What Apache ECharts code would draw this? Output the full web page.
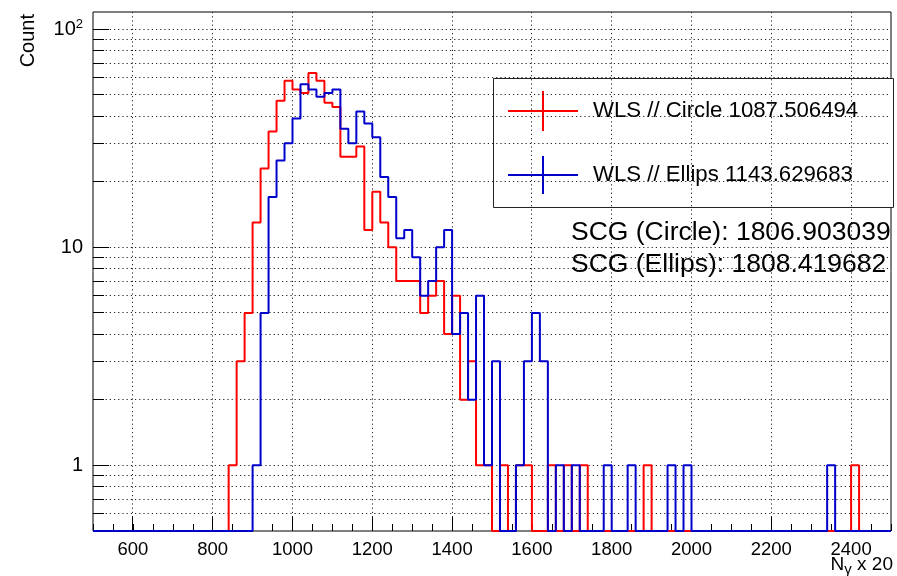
<!DOCTYPE html>
<html><head><meta charset="utf-8">
<script src="https://cdn.jsdelivr.net/npm/echarts@6/dist/echarts.min.js"></script>
<style>html,body{margin:0;padding:0;background:#fff}#c{width:897px;height:576px}</style>
</head><body><div id="c"></div>
<script>
// ---- data ----
const BIN_START = 500, BIN_WIDTH = 20, BIN_COUNT = 100;
const circleCounts = [
  0,0,0,0,0,0,0,0,0,0,
  0,0,0,0,0,0,0,1,3,5,
  13,23,34,47,58,53,51,63,58,46,
  44,26,26,29,12,18,13,10,7,7,
  7,5,6,7,4,6,2,3,1,1,
  0,1,0,1,1,0,0,1,0,1,
  0,1,0,0,0,0,0,0,0,1,
  0,0,0,0,0,0,0,0,0,0,
  0,0,0,0,0,0,0,0,0,0,
  0,0,0,0,0,1,0,0,0,0
];
const ellipsCounts = [
  0,0,0,0,0,0,0,0,0,0,
  0,0,0,0,0,0,0,0,0,0,
  1,5,17,25,30,39,56,53,49,51,
  53,35,30,42,37,32,21,17,11,12,
  9,6,7,10,12,4,5,2,6,1,
  3,0,0,1,3,5,3,0,1,0,
  1,0,0,0,1,0,0,1,0,0,
  0,0,1,0,1,0,0,0,0,0,
  0,0,0,0,0,0,0,0,0,0,
  0,0,1,0,0,0,0,0,0,0
];
const seriesNames = ['WLS // Circle 1087.506494', 'WLS // Ellips 1143.629683'];
const scgLabels = ['SCG (Circle): 1806.903039', 'SCG (Ellips): 1808.419682'];
const xMajorTicks = [600,800,1000,1200,1400,1600,1800,2000,2200,2400];
const yMajorTicks = [1,10,100];
const yMinorTicks = [0.6,0.7,0.8,0.9,2,3,4,5,6,7,8,9,20,30,40,50,60,70,80,90];
const X_MIN = 500, X_MAX = 2500, Y_MIN = 0.5, Y_MAX = 120;

// ---- style ----
const RED = '#ff0000', BLUE = '#0000cc';
const FONT = '"Liberation Sans", Arial, Helvetica, sans-serif';

function stepData(counts) {
  const pts = counts.map((c, i) => [BIN_START + i * BIN_WIDTH, c > 0 ? c : Y_MIN]);
  const last = counts[counts.length - 1];
  pts.push([BIN_START + counts.length * BIN_WIDTH, last > 0 ? last : Y_MIN]);
  return pts;
}

const crisp = v => Math.round(v - 0.5) + 0.5;

const chart = echarts.init(document.getElementById('c'), null, {renderer: 'canvas'});
chart.setOption({
  animation: false,
  backgroundColor: '#fff',
  grid: {left: 93, right: 6, top: 12, bottom: 45, show: true, borderColor: '#000', borderWidth: 1, backgroundColor: 'transparent'},
  xAxis: {
    type: 'value', min: X_MIN, max: X_MAX, interval: 50,
    axisLine: {show: false},
    axisTick: {show: true, inside: true, length: 7, lineStyle: {color: '#000', width: 1}},
    splitLine: {show: false},
    axisLabel: {
      margin: 9, color: '#000', fontSize: 18.5, fontFamily: FONT,
      formatter: v => (xMajorTicks.indexOf(v) >= 0 ? String(v) : '')
    }
  },
  yAxis: {
    type: 'log', logBase: 10, min: Y_MIN, max: Y_MAX,
    axisLine: {show: false},
    axisTick: {show: false},
    splitLine: {show: false},
    axisLabel: {
      margin: 10, color: '#000', fontSize: 20, fontFamily: FONT,
      formatter: v => {
        if (Math.abs(v - 100) < 1e-6) return '10{sup|2}';
        if (Math.abs(v - 10) < 1e-6) return '10';
        if (Math.abs(v - 1) < 1e-6) return '1';
        return '';
      },
      rich: {sup: {fontSize: 13, fontFamily: FONT, color: '#000', padding: [0, 0, 9, 0]}}
    }
  },
  series: [
    {
      type: 'custom', name: 'ygrid', silent: true, z: 1,
      data: yMajorTicks.concat(yMinorTicks).map(v => [X_MIN, v]),
      encode: {x: 0, y: 1},
      renderItem: (params, api) => {
        const cs = params.coordSys;
        const v = api.value(1);
        const y = crisp(api.coord([X_MIN, v])[1]);
        const major = yMajorTicks.indexOf(v) >= 0;
        const len = major ? 16 : 11;
        return {type: 'group', children: [
          {type: 'line', shape: {x1: cs.x, y1: y, x2: cs.x + cs.width, y2: y}, style: {stroke: '#222', lineWidth: 1, lineDash: [1.2, 3]}},
          {type: 'line', shape: {x1: cs.x, y1: y, x2: cs.x + len, y2: y}, style: {stroke: '#000', lineWidth: 1}}
        ]};
      }
    },
    {
      type: 'custom', name: 'xgrid', silent: true, z: 1,
      data: xMajorTicks.map(v => [v, Y_MIN]),
      encode: {x: 0, y: 1},
      renderItem: (params, api) => {
        const cs = params.coordSys;
        const x = crisp(api.coord([api.value(0), Y_MIN])[0]);
        return {type: 'group', children: [
          {type: 'line', shape: {x1: x, y1: cs.y, x2: x, y2: cs.y + cs.height}, style: {stroke: '#222', lineWidth: 1, lineDash: [1.2, 3]}},
          {type: 'line', shape: {x1: x, y1: cs.y + cs.height, x2: x, y2: cs.y + cs.height - 14}, style: {stroke: '#000', lineWidth: 1}}
        ]};
      }
    },
    {
      type: 'line', name: seriesNames[0], step: 'end', data: stepData(circleCounts),
      symbol: 'none', clip: false, z: 3,
      lineStyle: {color: RED, width: 2}, itemStyle: {color: RED}
    },
    {
      type: 'line', name: seriesNames[1], step: 'end', data: stepData(ellipsCounts),
      symbol: 'none', clip: false, z: 4,
      lineStyle: {color: BLUE, width: 2}, itemStyle: {color: BLUE}
    }
  ],
  graphic: [
    {type: 'text', x: 28, y: 14, rotation: Math.PI / 2,
     style: {text: 'Count', fill: '#000', font: '20px ' + FONT, textAlign: 'right', textVerticalAlign: 'middle'}},
    {type: 'text', x: 893, y: 565,
     style: {text: 'N{sub|γ} x 20', fill: '#000', font: '19px ' + FONT, textAlign: 'right', textVerticalAlign: 'middle',
             rich: {sub: {fontSize: 15, fontFamily: FONT, padding: [10, 0, 0, 0]}}}},
    {type: 'group', z: 100, children: [
      {type: 'rect', shape: {x: 493.5, y: 78.5, width: 400, height: 129}, style: {fill: '#fff', stroke: '#222', lineWidth: 1}},
      {type: 'line', shape: {x1: 508, y1: 111, x2: 578, y2: 111}, style: {stroke: RED, lineWidth: 2}},
      {type: 'line', shape: {x1: 543, y1: 91, x2: 543, y2: 131}, style: {stroke: RED, lineWidth: 2}},
      {type: 'text', x: 593, y: 111, style: {text: seriesNames[0], fill: '#000', font: '22.2px ' + FONT, textVerticalAlign: 'middle'}},
      {type: 'line', shape: {x1: 508, y1: 175, x2: 578, y2: 175}, style: {stroke: BLUE, lineWidth: 2}},
      {type: 'line', shape: {x1: 543, y1: 156, x2: 543, y2: 194}, style: {stroke: BLUE, lineWidth: 2}},
      {type: 'text', x: 593, y: 175, style: {text: seriesNames[1], fill: '#000', font: '22.2px ' + FONT, textVerticalAlign: 'middle'}}
    ]},
    {type: 'text', x: 571, y: 233, z: 100, style: {text: scgLabels[0], fill: '#000', font: '26.5px ' + FONT, textVerticalAlign: 'middle'}},
    {type: 'text', x: 571, y: 265, z: 100, style: {text: scgLabels[1], fill: '#000', font: '26.5px ' + FONT, textVerticalAlign: 'middle'}}
  ]
});
</script>
</body></html>
